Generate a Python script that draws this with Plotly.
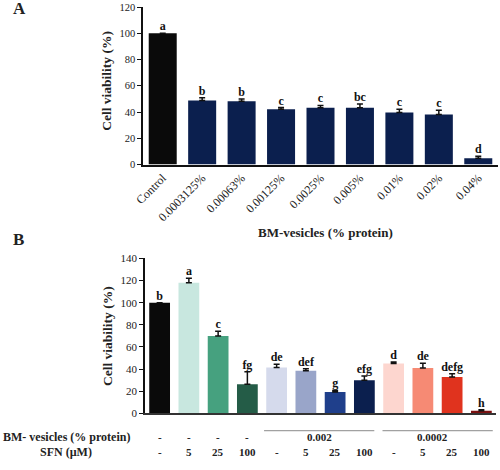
import plotly.graph_objects as go

# ---------------- data ----------------
cats_a = ["Control", "0.0003125%", "0.00063%", "0.00125%", "0.0025%",
          "0.005%", "0.01%", "0.02%", "0.04%"]
vals_a = [100, 48.8, 48.3, 42.2, 43.2, 43.2, 39.6, 38.1, 4.7]
err_a = [0, 2.0, 1.7, 1.2, 1.8, 3.0, 2.6, 3.3, 1.5]
letters_a = ["a", "b", "b", "c", "c", "bc", "c", "c", "d"]
colors_a = ["#0a0a0a"] + ["#0b1f4e"] * 8

idx_b = list(range(12))
vals_b = [100, 118, 70, 26.3, 41.5, 38.5, 19.3, 30.0, 45.0, 41.0, 32.8, 2.4]
err_b = [0, 3.9, 4.2, 11.4, 3.0, 1.8, 1.5, 3.9, 1.5, 4.3, 3.0, 1.0]
letters_b = ["b", "a", "c", "fg", "de", "def", "g", "efg", "d", "de", "defg", "h"]
colors_b = ["#0a0a0a", "#c8e7df", "#46a17f", "#245c47",
            "#d5daec", "#99a5c9", "#1f3f8b", "#0b1f4e",
            "#fdd6cf", "#f68a74", "#e0331e", "#7b1010"]
bm_row = ["-", "-", "-", "-"]
bm_groups = ["0.002", "0.0002"]
sfn_row = ["-", "5", "25", "100", "-", "5", "25", "100", "-", "5", "25", "100"]

FONT = "Liberation Serif"
TXT = "#222222"

fig = go.Figure()

# Panel A
fig.add_trace(go.Bar(
    x=cats_a, y=vals_a, marker=dict(color=colors_a, line=dict(width=0)),
    error_y=dict(type="data", array=err_a, arrayminus=[0] * len(err_a), symmetric=False,
                 color="#111111", thickness=1.5, width=3),
    xaxis="x", yaxis="y", showlegend=False))
fig.add_trace(go.Scatter(
    x=cats_a, y=[v + e for v, e in zip(vals_a, err_a)],
    text=["<b>%s</b>" % t for t in letters_a], mode="text", textposition="top center",
    textfont=dict(family=FONT, size=12, color="#111111"),
    xaxis="x", yaxis="y", showlegend=False, hoverinfo="skip", cliponaxis=False))

# Panel B
fig.add_trace(go.Bar(
    x=idx_b, y=vals_b, marker=dict(color=colors_b, line=dict(width=0)),
    error_y=dict(type="data", array=err_b, arrayminus=[0] * len(err_b), symmetric=False,
                 color="#111111", thickness=1.5, width=3),
    xaxis="x2", yaxis="y2", showlegend=False))
fig.add_trace(go.Scatter(
    x=idx_b, y=[v + e for v, e in zip(vals_b, err_b)],
    text=["<b>%s</b>" % t for t in letters_b], mode="text", textposition="top center",
    textfont=dict(family=FONT, size=12, color="#111111"),
    xaxis="x2", yaxis="y2", showlegend=False, hoverinfo="skip", cliponaxis=False))

ann = []


def add_ann(text, x, y, xref="paper", size=12, angle=0):
    ann.append(dict(text=text, x=x, y=y, xref=xref, yref="paper", xanchor="center",
                    yanchor="middle", textangle=angle, showarrow=False,
                    font=dict(family=FONT, size=size, color=TXT)))


# panel letters
add_ann("<b>A</b>", 0.038, 0.981, size=17)
add_ann("<b>B</b>", 0.037, 0.49, size=17)
# axis titles
add_ann("<b>Cell viability (%)</b>", 0.214, 0.828, size=13.5, angle=-90)
add_ann("<b>Cell viability (%)</b>", 0.214, 0.285, size=13.5, angle=-90)
add_ann("<b>BM-vesicles (% protein)</b>", 0.65, 0.506, size=13)
# bottom rows of panel B
add_ann("<b>BM- vesicles (% protein)</b>", 0.132, 0.071)
add_ann("<b>SFN (\u00b5M)</b>", 0.132, 0.039)
for i, t in enumerate(bm_row):
    add_ann("<b>%s</b>" % t, idx_b[i], 0.071, xref="x2", size=11)
for gx, t in zip([5.46, 9.33], bm_groups):
    add_ann("<b>%s</b>" % t, gx, 0.071, xref="x2", size=11)
for i, t in enumerate(sfn_row):
    add_ann("<b>%s</b>" % t, idx_b[i], 0.039, xref="x2", size=11)

shapes = [
    dict(type="line", xref="x2", yref="paper", x0=3.57, x1=7.34, y0=0.0836, y1=0.0836,
         line=dict(color="#8a8a8a", width=1)),
    dict(type="line", xref="x2", yref="paper", x0=7.62, x1=11.39, y0=0.0836, y1=0.0836,
         line=dict(color="#8a8a8a", width=1)),
]

fig.update_layout(
    template="none",
    width=500, height=470, margin=dict(l=0, r=0, t=0, b=0, autoexpand=False),
    paper_bgcolor="white", plot_bgcolor="white",
    bargap=0.29,
    font=dict(family=FONT, color=TXT),
    annotations=ann, shapes=shapes,
    xaxis=dict(domain=[0.286, 0.996], anchor="y", type="category", showline=True,
               linecolor="#111", linewidth=1.5,
               ticks="", tickangle=-45, tickfont=dict(family=FONT, size=12, color=TXT),
               showgrid=False, zeroline=False, automargin=False),
    yaxis=dict(domain=[0.65, 0.985], anchor="x", range=[0, 120], dtick=20,
               showline=True, linecolor="#111", linewidth=1.5, ticks="outside", ticklen=4,
               tickcolor="#111", tickfont=dict(family=FONT, size=10.5, color=TXT),
               showgrid=False, zeroline=False, automargin=False),
    xaxis2=dict(domain=[0.29, 0.992], anchor="y2", range=[-0.5, 11.5], showline=True,
                linecolor="#333", linewidth=1.5, showticklabels=False, ticks="",
                showgrid=False, zeroline=False, automargin=False),
    yaxis2=dict(domain=[0.1203, 0.4504], anchor="x2", range=[0, 140], dtick=20,
                showline=True, linecolor="#111", linewidth=1.5, ticks="outside", ticklen=4,
                tickcolor="#111", tickfont=dict(family=FONT, size=11, color=TXT),
                showgrid=False, zeroline=False, automargin=False),
)

fig.write_html("out.html", config={"displayModeBar": False},
               post_script="document.body.style.margin='0';document.body.style.overflow='hidden';")
